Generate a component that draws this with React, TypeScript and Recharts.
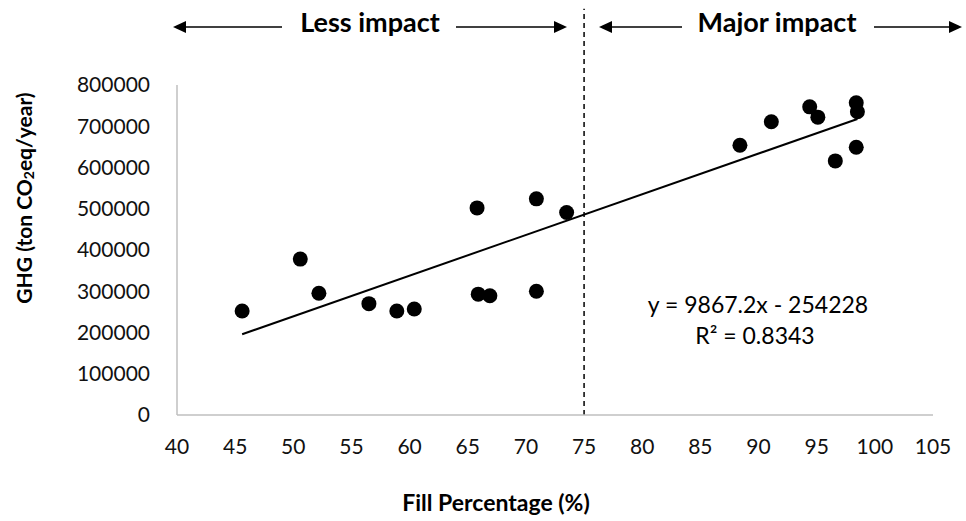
import { ScatterChart, Scatter, XAxis, YAxis, ReferenceLine, Label } from "recharts";

// fill percentage (%) and GHG (ton CO2eq/year)
const fillPct = [45.6, 50.6, 52.2, 56.5, 58.9, 60.4, 65.8, 65.9, 66.9, 70.9, 70.9, 73.5, 88.4, 91.1, 94.4, 95.1, 96.6, 98.4, 98.5, 98.4];
const ghg = [252000, 378000, 295000, 270000, 252000, 257000, 502000, 293000, 289000, 524000, 300000, 491000, 654000, 711000, 747000, 722000, 616000, 757000, 735000, 649000];

const xTicks = [40, 45, 50, 55, 60, 65, 70, 75, 80, 85, 90, 95, 100, 105];
const yTicks = [0, 100000, 200000, 300000, 400000, 500000, 600000, 700000, 800000];

// linear trend shown on the chart
const slope = 9867.2;
const intercept = -254228;
const r2 = 0.8343;

const points = fillPct.map((x, i) => ({ x, y: ghg[i] }));
const xMin = Math.min(...fillPct);
const xMax = Math.max(...fillPct);
const trend = [
  { x: xMin, y: slope * xMin + intercept },
  { x: xMax, y: slope * xMax + intercept },
];

const FONT = "Lato, 'Open Sans', sans-serif";
const AXIS = "#bfbfbf";

const YTitle = ({ viewBox }: any) => {
  const cx = viewBox.x + 23;
  const cy = viewBox.y + viewBox.height / 2 - 52;
  return (
    <text
      x={cx}
      y={cy}
      transform={`rotate(-90 ${cx} ${cy})`}
      textAnchor="middle"
      dominantBaseline="central"
      fontFamily={FONT}
      fontWeight={700}
      fontSize={21}
      fill="#000"
    >
      GHG (ton CO
      <tspan dy={5} fontSize={14}>2</tspan>
      <tspan dy={-5}>eq/year)</tspan>
    </text>
  );
};

const XTitle = ({ viewBox }: any) => (
  <text
    x={viewBox.x + viewBox.width / 2 - 59}
    y={viewBox.y + 96}
    textAnchor="middle"
    fontFamily={FONT}
    fontWeight={700}
    fontSize={23}
    fill="#000"
  >
    Fill Percentage (%)
  </text>
);

const Dot = (props: any) => <circle cx={props.cx} cy={props.cy} r={7.5} fill="#000" />;

const Arrow = ({ x1, x2, y }: { x1: number; x2: number; y: number }) => {
  // arrow head at x2
  const dir = x2 > x1 ? 1 : -1;
  return (
    <g>
      <line x1={x1} y1={y} x2={x2 - dir * 10} y2={y} stroke="#000" strokeWidth={1.5} />
      <polygon points={`${x2},${y} ${x2 - dir * 13},${y - 6} ${x2 - dir * 13},${y + 6}`} fill="#000" />
    </g>
  );
};

export default function App() {
  return (
    <div style={{ position: "absolute", left: 0, top: 0, width: 966, height: 521, background: "#fff" }}>
      <ScatterChart width={966} height={521} margin={{ top: 85, right: 33, bottom: 46, left: 0 }}>
        <XAxis
          type="number"
          dataKey="x"
          domain={[40, 105]}
          ticks={xTicks}
          interval={0}
          tickLine={false}
          tickSize={0}
          tickMargin={24}
          height={60}
          axisLine={{ stroke: AXIS, strokeWidth: 1.5 }}
          tick={{ fill: "#111", fontSize: 21, fontFamily: FONT }}
        >
          <Label content={XTitle} />
        </XAxis>
        <YAxis
          type="number"
          dataKey="y"
          domain={[0, 800000]}
          ticks={yTicks}
          interval={0}
          width={177}
          tickLine={false}
          tickSize={0}
          tickMargin={27}
          axisLine={{ stroke: AXIS, strokeWidth: 1.5 }}
          tick={{ fill: "#111", fontSize: 21, fontFamily: FONT }}
        >
          <Label content={YTitle} />
        </YAxis>
        <ReferenceLine
          segment={[{ x: 75, y: 0 }, { x: 75, y: 985000 }]}
          ifOverflow="visible"
          stroke="#000"
          strokeWidth={1.5}
          strokeDasharray="5 4"
        />
        <ReferenceLine
          segment={trend}
          ifOverflow="visible"
          stroke="#000"
          strokeWidth={2}
        />
        <Scatter data={points} shape={Dot} isAnimationActive={false} />
      </ScatterChart>
      <svg
        width={966}
        height={521}
        style={{ position: "absolute", left: 0, top: 0, pointerEvents: "none" }}
        fontFamily={FONT}
      >
        <Arrow x1={282} x2={173} y={27} />
        <Arrow x1={456} x2={567} y={27} />
        <Arrow x1={682} x2={599} y={27} />
        <Arrow x1={874} x2={962} y={27} />
        <text x={370} y={32} textAnchor="middle" fontWeight={700} fontSize={27} fill="#000">
          Less impact
        </text>
        <text x={777} y={32} textAnchor="middle" fontWeight={700} fontSize={27} fill="#000">
          Major impact
        </text>
        <text x={758} y={313} textAnchor="middle" fontSize={23} fill="#000">
          {`y = ${slope}x - ${Math.abs(intercept)}`}
        </text>
        <text x={755} y={344} textAnchor="middle" fontSize={23} fill="#000">
          R² = {r2}
        </text>
      </svg>
    </div>
  );
}
